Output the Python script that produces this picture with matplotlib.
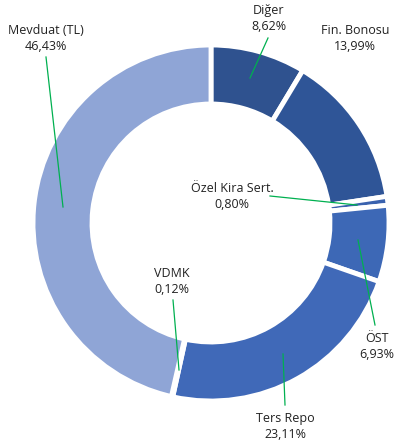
import matplotlib.pyplot as plt

# portfolio shares, clockwise from top
labels = ['Diğer', 'Fin. Bonosu', 'Özel Kira Sert.', 'ÖST', 'Ters Repo', 'VDMK', 'Mevduat (TL)']
shares = [8.62, 13.99, 0.80, 6.93, 23.11, 0.12, 46.43]
colors = ['#2F528F', '#2F5597', '#3A62AE', '#3D68B6', '#4069B8', '#6F8BCB', '#8FA5D6']

W, H = 403, 448
cx, cy, r_out, r_in = 211, 448 - 223, 178, 119

# label text position, line start, line end (pixel coords, y from top)
label_pos = {
    'Diğer': ((269, 18), (268, 38), (250, 78)),
    'Fin. Bonosu': ((355, 38), None, None),
    'Özel Kira Sert.': ((232, 196), (270, 196), (357, 205)),
    'ÖST': ((377, 346), (375, 325), (358, 240)),
    'Ters Repo': ((285, 426), (285, 405), (283, 354)),
    'VDMK': ((172, 281), (173, 300), (179, 370)),
    'Mevduat (TL)': ((46, 38), (46, 57), (63, 207)),
}

fig = plt.figure(figsize=(W / 100, H / 100), dpi=100)
ax = fig.add_axes([0, 0, 1, 1])
ax.set_xlim(0, W)
ax.set_ylim(0, H)
ax.set_aspect('equal')
ax.axis('off')

ax.pie(shares, colors=colors, startangle=90, counterclock=False,
       center=(cx, cy), radius=r_out,
       wedgeprops=dict(width=r_out - r_in, edgecolor='white', linewidth=3.5))
ax.set_xlim(0, W)
ax.set_ylim(0, H)

for lab, val in zip(labels, shares):
    (tx, ty), p0, p1 = label_pos[lab]
    txt = lab + '\n' + f'{val:.2f}'.replace('.', ',') + '%'
    ax.text(tx, H - ty, txt, ha='center', va='center', fontsize=9,
            family='Open Sans', color='#222222', linespacing=1.3)
    if p0 is not None:
        ax.plot([p0[0], p1[0]], [H - p0[1], H - p1[1]], color='#00B050', lw=0.9)

fig.savefig('out.png', dpi=100)
